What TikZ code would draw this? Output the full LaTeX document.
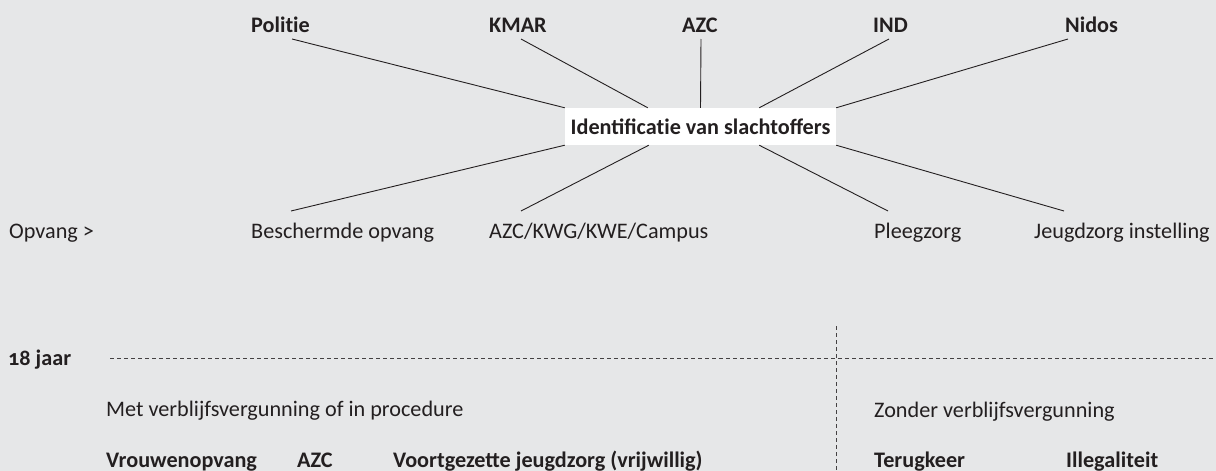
\documentclass[tikz,border=0pt]{standalone}
\usepackage{fontspec}
\setmainfont{Carlito}
\usepackage{tikz}
\usetikzlibrary{positioning,calc}
\definecolor{bgrey}{HTML}{E6E7E8}
\definecolor{ink}{HTML}{231F20}
\newcommand{\tnl}{\kern0pt}% no t-i ligature

\begin{document}
\begin{tikzpicture}[
        x=1pt, y=-1pt,
        every node/.style={color=ink, inner sep=0pt, anchor=base west,
            font=\fontsize{22.2}{25}\selectfont},
        hd/.style={font=\fontsize{22.2}{25}\selectfont\bfseries},
        spoke/.style={ink, line width=0.9pt},
        split/.style={ink!85, line width=1pt, dash pattern=on 4pt off 3pt},
        centerbox/.style={fill=white, anchor=center, minimum width=271pt,
            minimum height=37pt, hd},
    ]
    % background
    \fill[bgrey] (0,0) rectangle (1216,471);
    \useasboundingbox (0,0) rectangle (1216,471);
    % actors
    \node[hd] (politie) at (251,32) {Polit\tnl ie};
    \node[hd] (kmar) at (489,32) {KMAR};
    \node[hd] (azc) at (682,32) {AZC};
    \node[hd] (ind) at (873,32) {IND};
    \node[hd] (nidos) at (1065,32) {Nidos};
    \node[centerbox] (ident) at (700.5,126.5)
        {\raisebox{-1pt}{Identificat\tnl ie van slachtoffers}};
    \coordinate (politie-e) at (292,39);
    \coordinate (kmar-e) at (521,39);
    \coordinate (azc-e) at (701,39);
    \coordinate (ind-e) at (889,39);
    \coordinate (nidos-e) at (1068,39);
    \draw[spoke] (politie-e) -- (ident.north west);
    \draw[spoke] (kmar-e) -- ([xshift=83pt]ident.north west);
    \draw[spoke] (azc-e) -- (ident.north);
    \draw[spoke] (ind-e) -- ([xshift=-77pt]ident.north east);
    \draw[spoke] (nidos-e) -- (ident.north east);
    % opvang
    \node (opvang) at (9,238) {Opvang >};
    \node (besch) at (251,238) {Beschermde opvang};
    \node (kwg) at (489,238) {AZC/KWG/KWE/Campus};
    \node (pleeg) at (874,238) {Pleegzorg};
    \node (jeugd) at (1034,238) {Jeugdzorg instelling};
    \coordinate (besch-e) at (291,211);
    \coordinate (kwg-e) at (521,211);
    \coordinate (pleeg-e) at (888,211);
    \coordinate (jeugd-e) at (1064,211);
    \draw[spoke] (ident.south west) -- (besch-e);
    \draw[spoke] ([xshift=84pt]ident.south west) -- (kwg-e);
    \draw[spoke] ([xshift=-77pt]ident.south east) -- (pleeg-e);
    \draw[spoke] (ident.south east) -- (jeugd-e);
    % 18 jaar
    \node[hd] (jaar) at (8,365) {\addfontfeatures{Numbers=OldStyle}18 jaar};
    \coordinate (h-start) at (110,358);
    \coordinate (h-end) at (1216,358);
    \coordinate (v-start) at (836,326);
    \coordinate (v-end) at (836,471);
    \draw[split] (h-start) -- (h-end);
    \draw[split] (v-start) -- (v-end);
    \node (met) at (106,416) {Met verblijfsvergunning of in procedure};
    \node (zonder) at (874,417) {Zonder verblijfsvergunning};
    \node[hd] (vrouw) at (106,467) {Vrouwenopvang};
    \node[hd] (azc2) at (297,467) {AZC};
    \node[hd] (voort) at (393,467) {Voortgezette jeugdzorg (vrijwillig)};
    \node[hd] (terug) at (874,467) {Terugkeer};
    \node[hd] (illeg) at (1066,467) {Illegalit\tnl eit};
\end{tikzpicture}
\end{document}
